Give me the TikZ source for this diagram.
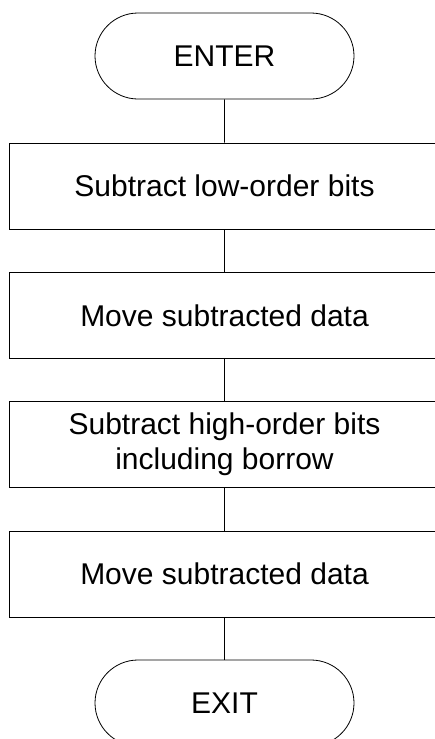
\documentclass[tikz,border=0pt]{standalone}
\usepackage{fontspec}
\setmainfont{Liberation Sans}
\usepackage{tikz}
\usetikzlibrary{shapes.misc}

\begin{document}
\begin{tikzpicture}[x=1pt, y=-1pt, line width=0.8pt,
	font=\fontsize{30}{35}\selectfont,
	term/.style={rounded rectangle, draw, minimum width=259pt, minimum height=86pt, inner sep=0pt},
	stepbox/.style={rectangle, draw, minimum width=431pt, minimum height=86pt, inner sep=0pt, align=center}]
	\useasboundingbox (0,0) rectangle (435,739);
	\node (enter) at (224.5, 56) [term] {ENTER};
		\node (low) at (224.5, 186) [stepbox] {Subtract low-order bits};
		\node (move1) at (224.5, 315.3) [stepbox] {Move subtracted data};
		\node (high) at (224.5, 444.3) [stepbox] {Subtract high-order bits\\including borrow};
		\node (move2) at (224.5, 574) [stepbox] {Move subtracted data};
	\node (exit) at (224.5, 703) [term] {EXIT};
	\draw[-] (enter) to (low);
	\draw[-] (low) to (move1);
	\draw[-] (move1) to (high);
	\draw[-] (high) to (move2);
	\draw[-] (move2) to (exit);
\end{tikzpicture}
\end{document}
